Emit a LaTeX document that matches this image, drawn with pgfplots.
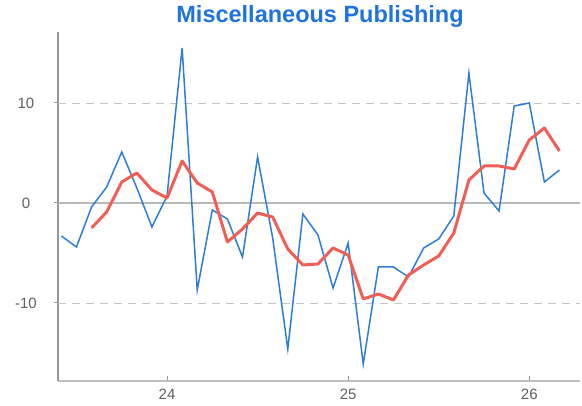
\documentclass[border=0pt]{standalone}
\usepackage{fontspec}
\setmainfont{Liberation Sans}
\usepackage{pgfplots}
\pgfplotsset{compat=1.18}
\definecolor{lineblue}{RGB}{45,125,215}
\definecolor{linered}{RGB}{240,95,85}
\definecolor{titleblue}{RGB}{30,115,220}
\definecolor{axisgray}{RGB}{150,150,150}
\definecolor{bottomgray}{RGB}{190,190,190}
\definecolor{labelgray}{RGB}{95,95,95}

\begin{document}
\begin{tikzpicture}
\useasboundingbox (-58pt,-25pt) rectangle (524pt,381pt);
\begin{axis}[
    scale only axis,
    width=522pt, height=349pt,
    xmin=23.398, xmax=26.28,
    ymin=-17.8, ymax=17.1,
    axis x line*=bottom, axis y line*=left,
    axis line style={-},
    x axis line style={bottomgray, line width=2pt},
    y axis line style={axisgray, line width=1.6pt},
    xtick={24,25,26}, ytick={-10,0,10},
    tick align=inside, major tick length=5pt,
    xtick style={axisgray, line width=1pt},
    ytick style={axisgray, line width=1pt, xshift=-4pt},
    /pgf/number format/assume math mode=true,
    ticklabel style={font=\fontsize{15}{15}\selectfont, text=labelgray},
    yticklabel style={anchor=center, xshift=-32pt},
    xticklabel style={anchor=center, yshift=-13pt},
    title={Miscellaneous Publishing},
    title style={font=\fontsize{23.5}{23.5}\selectfont\bfseries, text=titleblue,
                 at={(axis description cs:0.502,1.011)}, anchor=base},
    clip=false,
]
\draw[gray!45, dashed, dash pattern=on 8pt off 6pt, line width=0.9pt]
    (axis cs:23.398,10) -- (axis cs:26.28,10)
    (axis cs:23.398,-10) -- (axis cs:26.28,-10);
\draw[gray!55, line width=1.2pt] (axis cs:23.398,0) -- (axis cs:26.28,0);

\addplot[lineblue, line width=1.5pt] coordinates {
(23.4167,-3.3) (23.5000,-4.4) (23.5833,-0.4) (23.6667,1.6) (23.7500,5.1)
(23.8333,1.5) (23.9167,-2.4) (24.0000,0.7) (24.0833,15.5) (24.1667,-8.7)
(24.2500,-0.7) (24.3333,-1.6) (24.4167,-5.4) (24.5000,4.6) (24.5833,-3.5)
(24.6667,-14.6) (24.7500,-1.1) (24.8333,-3.2) (24.9167,-8.5) (25.0000,-4.0)
(25.0833,-16.1) (25.1667,-6.4) (25.2500,-6.4) (25.3333,-7.4) (25.4167,-4.5)
(25.5000,-3.6) (25.5833,-1.3) (25.6667,13.0) (25.7500,1.0) (25.8333,-0.8)
(25.9167,9.7) (26.0000,10.0) (26.0833,2.1) (26.1667,3.3)
};
\addplot[linered, line width=3pt, line join=round] coordinates {
(23.5833,-2.5) (23.6667,-0.9) (23.7500,2.1) (23.8333,3.0) (23.9167,1.3)
(24.0000,0.5) (24.0833,4.2) (24.1667,2.0) (24.2500,1.1) (24.3333,-3.9)
(24.4167,-2.6) (24.5000,-1.0) (24.5833,-1.4) (24.6667,-4.6) (24.7500,-6.2)
(24.8333,-6.1) (24.9167,-4.5) (25.0000,-5.2) (25.0833,-9.6) (25.1667,-9.1)
(25.2500,-9.7) (25.3333,-7.2) (25.4167,-6.2) (25.5000,-5.3) (25.5833,-3.0)
(25.6667,2.3) (25.7500,3.7) (25.8333,3.7) (25.9167,3.4) (26.0000,6.3)
(26.0833,7.5) (26.1667,5.2)
};
\end{axis}
\end{tikzpicture}
\end{document}
